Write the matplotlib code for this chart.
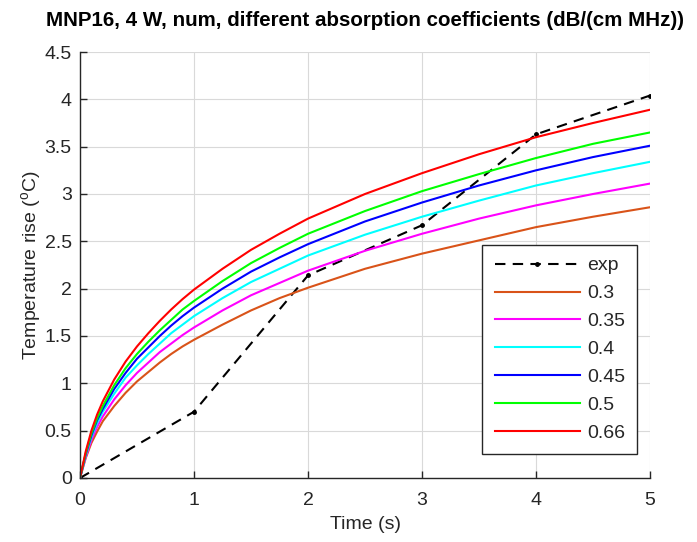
import matplotlib
matplotlib.use("Agg")
import matplotlib.pyplot as plt
from matplotlib.ticker import FormatStrFormatter, MultipleLocator

plt.rcParams['font.family'] = ['Liberation Sans', 'DejaVu Sans']
plt.rcParams['mathtext.fontset'] = 'custom'
plt.rcParams['mathtext.rm'] = 'Liberation Sans'
plt.rcParams['mathtext.it'] = 'Liberation Sans:italic'

# ---- data ----
t_exp = [0, 1, 2, 3, 4, 5]
exp_vals = [0, 0.70, 2.14, 2.67, 3.63, 4.04]

t_num = [0, 0.05, 0.1, 0.15, 0.2, 0.3, 0.4, 0.5, 0.6, 0.7, 0.8, 0.9, 1.0,
         1.25, 1.5, 1.75, 2, 2.5, 3, 3.5, 4, 4.5, 5]
a030 = [0, 0.21, 0.37, 0.49, 0.60, 0.76, 0.90, 1.02, 1.12, 1.22, 1.31, 1.39, 1.46,
        1.62, 1.77, 1.90, 2.01, 2.21, 2.37, 2.51, 2.65, 2.76, 2.86]
a035 = [0, 0.22, 0.40, 0.54, 0.65, 0.83, 0.98, 1.11, 1.22, 1.33, 1.42, 1.51, 1.59,
        1.77, 1.93, 2.06, 2.19, 2.40, 2.58, 2.74, 2.88, 3.00, 3.11]
a040 = [0, 0.24, 0.43, 0.58, 0.70, 0.89, 1.06, 1.19, 1.31, 1.42, 1.53, 1.62, 1.71,
        1.90, 2.07, 2.21, 2.35, 2.57, 2.76, 2.93, 3.09, 3.22, 3.34]
a045 = [0, 0.25, 0.45, 0.61, 0.73, 0.94, 1.11, 1.26, 1.38, 1.50, 1.61, 1.71, 1.80,
        2.00, 2.18, 2.33, 2.47, 2.71, 2.91, 3.09, 3.25, 3.39, 3.51]
a050 = [0, 0.26, 0.47, 0.63, 0.76, 0.98, 1.16, 1.31, 1.44, 1.56, 1.67, 1.78, 1.87,
        2.08, 2.27, 2.43, 2.58, 2.82, 3.03, 3.21, 3.38, 3.53, 3.65]
a066 = [0, 0.28, 0.50, 0.67, 0.81, 1.04, 1.23, 1.39, 1.53, 1.66, 1.78, 1.89, 1.99,
        2.21, 2.41, 2.58, 2.74, 3.00, 3.22, 3.42, 3.60, 3.75, 3.89]

labels = ['0.3', '0.35', '0.4', '0.45', '0.5', '0.66']
series = [a030, a035, a040, a045, a050, a066]
colors = ['#D95319', '#FF00FF', '#00FFFF', '#0000FF', '#00FF00', '#FF0000']

fig = plt.figure(figsize=(6.97, 5.42), dpi=100)
ax = fig.add_axes([80/697, 64/542, 570/697, 426/542])

ax.plot(t_exp, exp_vals, color='black', linestyle=(0, (5, 3.5)), lw=1.5,
        marker='.', markersize=5, label='exp')
for s, c, l in zip(series, colors, labels):
    ax.plot(t_num, s, color=c, lw=1.5, label=l)

ax.set_xlim(0, 5)
ax.set_ylim(0, 4.5)
ax.xaxis.set_major_locator(MultipleLocator(1))
ax.yaxis.set_major_locator(MultipleLocator(0.5))
ax.yaxis.set_major_formatter(FormatStrFormatter('%g'))
ax.xaxis.set_major_formatter(FormatStrFormatter('%g'))
ax.grid(True, color='#d9d9d9', lw=0.8)
ax.set_axisbelow(True)
for side in ['top', 'right']:
    ax.spines[side].set_visible(False)
for side in ['left', 'bottom']:
    ax.spines[side].set_color('#262626')
    ax.spines[side].set_linewidth(1.0)
ax.tick_params(direction='in', length=5, width=1.0, color='#262626',
               labelsize=14, labelcolor='#262626')
ax.tick_params(axis='y', pad=6)
ax.tick_params(axis='x', pad=10)

ax.set_xlabel('Time (s)', fontsize=14, color='#262626', labelpad=5)
ax.set_ylabel(r'Temperature rise ($^{\rm o}$C)', fontsize=14, color='#262626', labelpad=1)
ax.set_title('MNP16, 4 W, num, different absorption coefficients (dB/(cm MHz))',
             fontsize=14.8, fontweight='bold', color='black', pad=19)

leg = ax.legend(loc='lower right', bbox_to_anchor=(0.978, 0.056), fontsize=14,
                handlelength=4.4, labelspacing=0.53, handletextpad=0.36,
                borderpad=0.63, fancybox=False, framealpha=1, edgecolor='#262626',
                borderaxespad=0)
leg.get_frame().set_linewidth(1.0)
for txt in leg.get_texts():
    txt.set_color('#262626')

fig.savefig('out.png', dpi=100)
